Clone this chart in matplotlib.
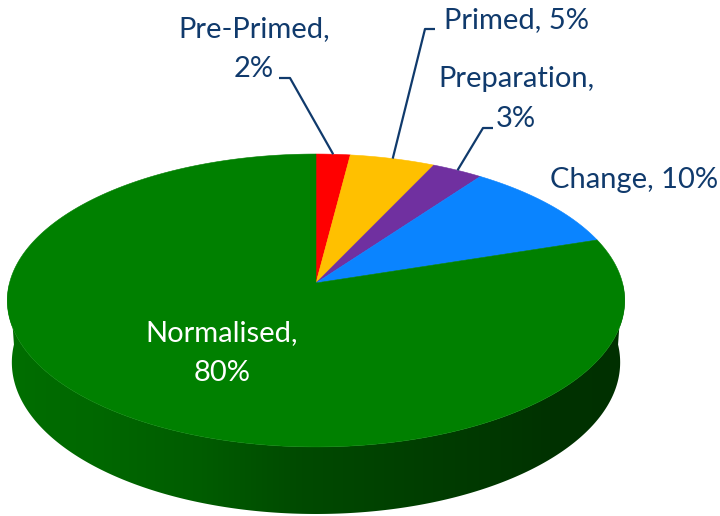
import numpy as np
import matplotlib.pyplot as plt
from matplotlib.colors import to_rgb
from matplotlib.patches import Polygon

labels = ["Pre-Primed", "Primed", "Preparation", "Change", "Normalised"]
shares = [2, 5, 3, 10, 80]
colors = ["#ff0000", "#ffc000", "#7030a0", "#0a84ff", "#008000"]

# label text placement; leader lines run from 'leader' via 'elbow' to the slice rim
label_pos = {
    "Pre-Primed": dict(xy=(254, 49), text="Pre-Primed,\n2%", leader=(279, 78), elbow=(290, 78)),
    "Primed": dict(xy=(516, 20), text="Primed, 5%", leader=(435, 29), elbow=(425, 29)),
    "Preparation": dict(xy=(516, 99), text="Preparation,\n3%", leader=(493, 128), elbow=(483, 128)),
    "Change": dict(xy=(634, 180), text="Change, 10%", leader=None, elbow=None),
    "Normalised": dict(xy=(222, 353), text="Normalised,\n80%", leader=None, elbow=None),
}

TEXT_COLOR = "#103a6c"

# simple perspective camera looking down at a flat disk
CX, CY = 316, 283
ELEV = np.radians(28.1)
DIST = 7.39
FOCAL = 2265
THICK = 0.231


def project(phi, z=0.0):
    x = np.cos(phi)
    y = np.sin(phi)
    depth = DIST + y * np.cos(ELEV) - z * np.sin(ELEV)
    px = CX + FOCAL * x / depth
    py = CY - FOCAL * (y * np.sin(ELEV) + z * np.cos(ELEV)) / depth
    return px, py


def side_factor(deg):
    return np.interp(deg, [-180, -135, -112, -93, -66, -40, 0],
                     [0.88, 0.81, 0.72, 0.58, 0.47, 0.39, 0.37])


fig = plt.figure(figsize=(7.2, 5.16), dpi=100)
ax = fig.add_axes([0, 0, 1, 1])

cum = np.concatenate([[0], np.cumsum(shares)]) / np.sum(shares)
starts = np.pi / 2 - 2 * np.pi * cum[:-1]
ends = np.pi / 2 - 2 * np.pi * cum[1:]

# shading of the wall by screen column (left lit, right in shadow)
cols = np.arange(720) + 0.5
half_w = FOCAL / DIST
col_deg = -np.degrees(np.arccos(np.clip((cols - CX) / half_w, -1, 1)))
col_k = side_factor(col_deg)

# side wall: only the front half (angles between -180 and 0 degrees) is visible
for a0, a1, col in zip(starts, ends, colors):
    lo, hi = max(a1, -np.pi), min(a0, 0.0)
    if lo >= hi:
        continue
    phis = np.linspace(hi, lo, 300)
    tx, ty = project(phis)
    bx, by = project(phis[::-1], -THICK)
    wall = Polygon(list(zip(tx, ty)) + list(zip(bx, by)), closed=True,
                   facecolor="none", edgecolor="none")
    ax.add_patch(wall)
    rgb = np.array(to_rgb(col))
    grad = (col_k[:, None] * rgb[None, :])[None, :, :]
    img = ax.imshow(grad, extent=(0, 720, 516, 0), aspect="auto",
                    interpolation="bilinear")
    img.set_clip_path(wall)

# top face slices
for a0, a1, col in zip(starts, ends, colors):
    phis = np.linspace(a0, a1, max(int(np.degrees(a0 - a1) * 2), 2))
    px, py = project(phis)
    pts = [(CX, CY)] + list(zip(px, py))
    ax.add_patch(Polygon(pts, closed=True, facecolor=col, edgecolor=col, lw=0.4))

# labels and leader lines
for name, a0, a1 in zip(labels, starts, ends):
    info = label_pos[name]
    tcol = "white" if name == "Normalised" else TEXT_COLOR
    ax.text(*info["xy"], info["text"], ha="center", va="center", color=tcol,
            fontsize=21, fontfamily="Lato", linespacing=1.62)
    if info["leader"] is not None:
        ex, ey = project((a0 + a1) / 2)
        xs = [info["leader"][0], info["elbow"][0], ex]
        ys = [info["leader"][1], info["elbow"][1], ey]
        ax.plot(xs, ys, color=TEXT_COLOR, lw=1.6, solid_capstyle="butt")

ax.set_xlim(0, 720)
ax.set_ylim(516, 0)
ax.axis("off")

fig.savefig("out.png", dpi=100)
